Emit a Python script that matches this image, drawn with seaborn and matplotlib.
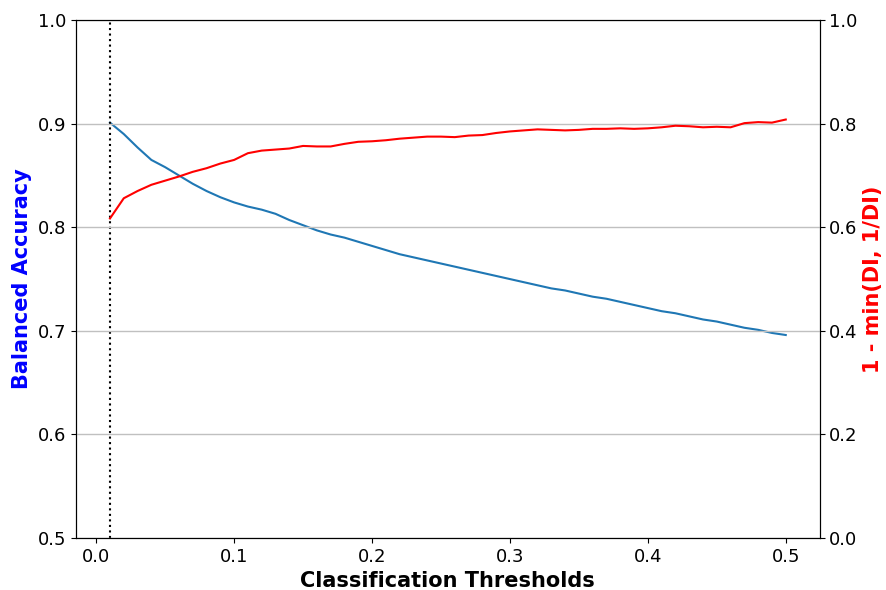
import matplotlib
matplotlib.use("Agg")
import matplotlib.pyplot as plt
import numpy as np
import pandas as pd
import seaborn as sns

# Thresholds 0.01 .. 0.50
thresholds = [round(0.01 * i, 2) for i in range(1, 51)]

balanced_accuracy = [
    0.901, 0.890, 0.877, 0.865, 0.858, 0.850, 0.842, 0.835, 0.829, 0.824,
    0.820, 0.817, 0.813, 0.807, 0.802, 0.797, 0.793, 0.790, 0.786, 0.782,
    0.778, 0.774, 0.771, 0.768, 0.765, 0.762, 0.759, 0.756, 0.753, 0.750,
    0.747, 0.744, 0.741, 0.739, 0.736, 0.733, 0.731, 0.728, 0.725, 0.722,
    0.719, 0.717, 0.714, 0.711, 0.709, 0.706, 0.703, 0.701, 0.698, 0.696,
]

disparate_impact = [
    0.617, 0.656, 0.670, 0.682, 0.690, 0.698, 0.707, 0.714, 0.723, 0.730,
    0.743, 0.748, 0.750, 0.752, 0.757, 0.756, 0.756, 0.761, 0.765, 0.766,
    0.768, 0.771, 0.773, 0.775, 0.775, 0.774, 0.777, 0.778, 0.782, 0.785,
    0.787, 0.789, 0.788, 0.787, 0.788, 0.790, 0.790, 0.791, 0.790, 0.791,
    0.793, 0.796, 0.795, 0.793, 0.794, 0.793, 0.801, 0.803, 0.802, 0.808,
]

df = pd.DataFrame(
    {"threshold": thresholds, "bal_acc": balanced_accuracy, "di": disparate_impact}
)

fig, ax1 = plt.subplots(figsize=(8.86, 5.9), dpi=100)
fig.subplots_adjust(left=0.086, right=0.925, top=0.966, bottom=0.088)

# Left axis: balanced accuracy
sns.lineplot(x="threshold", y="bal_acc", data=df, ax=ax1, color="#1f77b4")
ax1.axvline(x=0.01, color="black", linestyle=":")
ax1.set_ylim(0.5, 1.0)
ax1.set_xlabel("Classification Thresholds", fontsize=15, fontweight="bold")
ax1.set_ylabel("Balanced Accuracy", color="blue", fontsize=15, fontweight="bold")
ax1.tick_params(labelsize=13)

# Right axis: 1 - min(DI, 1/DI)
ax2 = ax1.twinx()
sns.lineplot(x="threshold", y="di", data=df, ax=ax2, color="red")
ax2.set_ylim(0.0, 1.0)
ax2.set_ylabel("1 - min(DI, 1/DI)", color="red", fontsize=15, fontweight="bold")
ax2.tick_params(labelsize=13)
ax2.grid(axis="y", color="#c0c0c0", linewidth=1)
ax2.set_axisbelow(True)

plt.savefig("out.png", dpi=100)
